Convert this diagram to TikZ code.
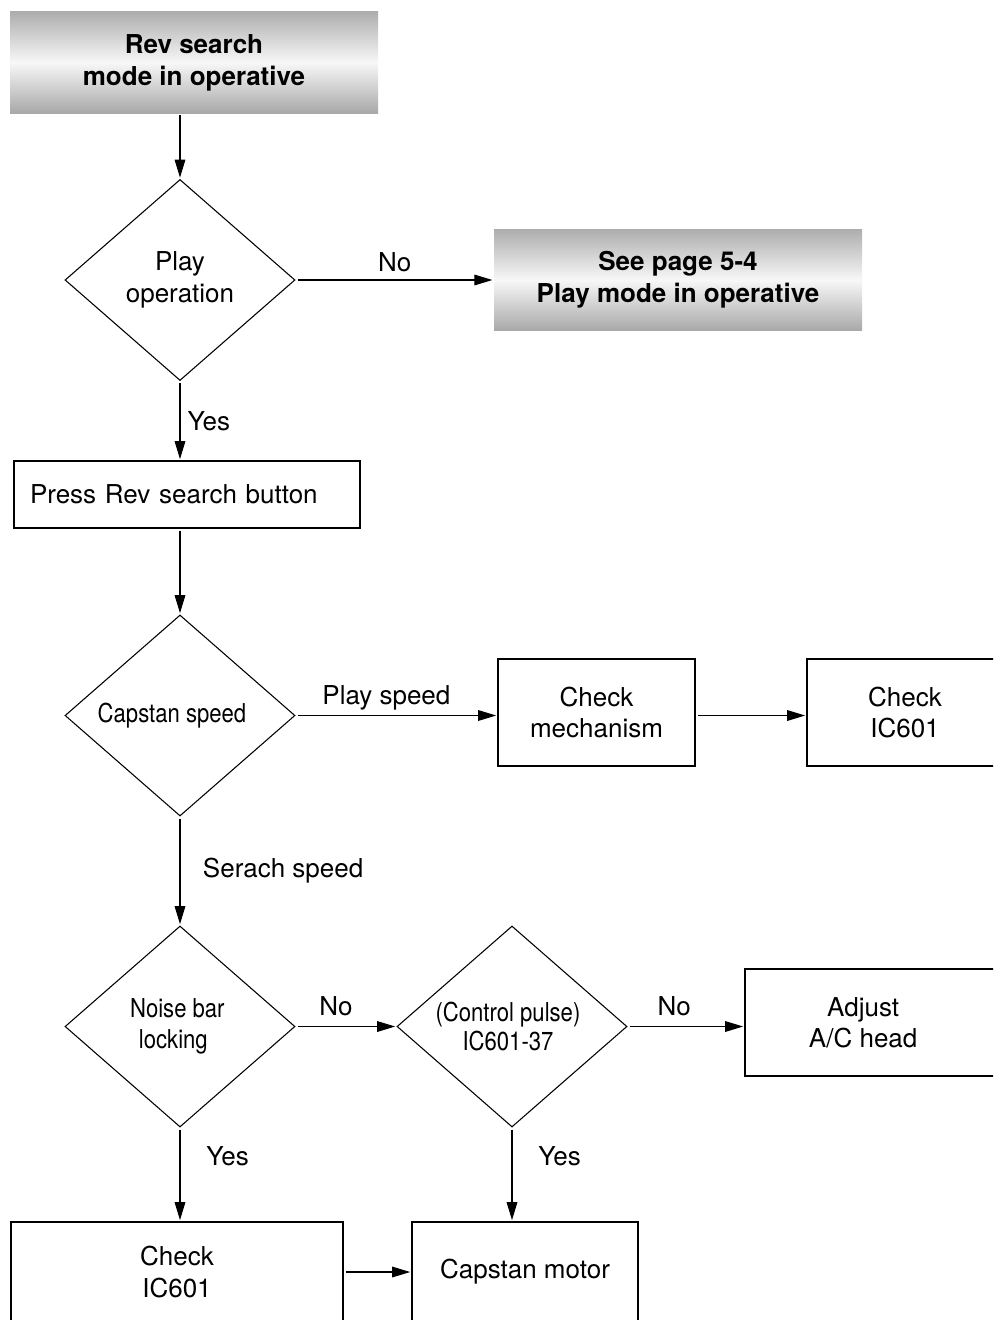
\documentclass[tikz,border=0pt]{standalone}
\usepackage{fontspec}
\setmainfont{TeX Gyre Heros}
\newfontfamily\narrowfont[FakeStretch=0.85]{TeX Gyre Heros}
\usetikzlibrary{arrows.meta,positioning,shapes.geometric}

\begin{document}
\begin{tikzpicture}[x=0.75pt, y=-0.75pt, font=\fontsize{19.5}{23.5}\selectfont, >={Triangle[length=13.5pt,width=8pt]},
 title/.style={align=center, font=\fontsize{19.5}{24}\selectfont\bfseries, minimum width=276pt, minimum height=76pt, inner sep=0pt, top color=black!32, bottom color=black!34, middle color=black!3},
 box/.style={draw, line width=0.8pt, align=center, minimum height=80.25pt, inner sep=0pt},
 decision/.style={draw, diamond, line width=0.8pt, align=center, minimum width=172.5pt, minimum height=150.75pt, inner sep=0pt, aspect=1.15},
 narrow/.style={font=\narrowfont\fontsize{19.5}{23.5}\selectfont},
 line/.style={->, line width=0.8pt, shorten <=1.5pt, shorten >=1pt}]
\path[use as bounding box] (0,0) rectangle (993,1320);
\clip (0,0) rectangle (993,1320);
\node[title] (start) at (194,62.5) {Rev search\\mode in operative};
\node[decision] (play) at (180,280) {Play\\operation};
\node[title] (seepage) at (678,280) {See page 5-4\\Play mode in operative};
\node[box, minimum height=50.25pt, text width=235.5pt, inner xsep=12pt, align=left] (press) at (187,494.5) {Press Rev search button};
\node[decision, narrow] (capstan) at (180,715.5) {Capstan speed\hspace*{12pt}};
\node[box, minimum width=147.75pt] (mech) at (596.5,712.5) {Check\\mechanism};
\node[box, minimum width=147pt] (icA) at (905,712.5) {Check\\IC601};
\node[decision, narrow] (noise) at (180,1026.5) {Noise bar\hspace*{4pt}\\locking\hspace*{10pt}};
\node[decision, narrow] (pulse) at (512,1026.5) {(Control pulse)\hspace*{6pt}\\[-2pt]IC601-37\hspace*{6pt}};
\node[box, minimum width=191.25pt] (adjust) at (872.5,1022.5) {Adjust\hspace*{14pt}\\A/C head\hspace*{14pt}};
\node[box, minimum width=249pt, minimum height=75pt] (icB) at (177,1272) {Check\\IC601};
\node[box, minimum width=169.5pt, minimum height=75pt] (motor) at (525,1272) {Capstan motor};
\draw[line] (start.south -| play) -- (play);
\draw[line] (play) -- node[above=2pt]{No} (seepage);
\draw[line] (play) -- node[right=2pt]{Yes} (press.north -| play);
\draw[line] (press.south -| capstan) -- (capstan);
\draw[line] (capstan) -- node[above, pos=0.45]{Play speed} (capstan -| mech.west);
\draw[line] (mech.east |- capstan) -- (capstan -| icA.west);
\draw[line] (capstan) -- node[right=13.5pt]{Serach speed} (noise);
\draw[line] (noise) -- node[above=4pt, pos=0.4]{No} (pulse);
\draw[line] (pulse) -- node[above=4pt, pos=0.4]{No} (pulse -| adjust.west);
\draw[line] (noise) -- node[right=16pt, pos=0.31]{Yes} (icB.north -| noise);
\draw[line] (pulse) -- node[right=16pt, pos=0.31]{Yes} (motor.north -| pulse);
\draw[line] (icB) -- (motor);
\end{tikzpicture}
\end{document}
